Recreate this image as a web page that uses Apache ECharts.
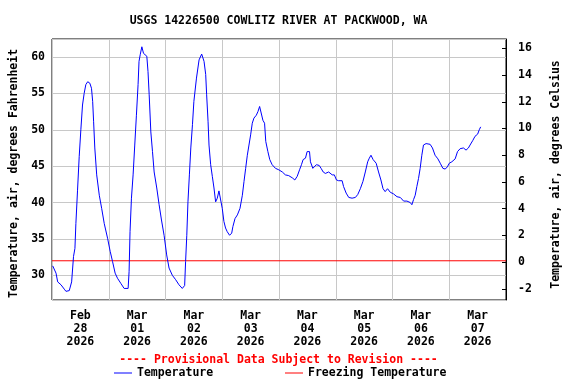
<!DOCTYPE html>
<html>
<head>
<meta charset="utf-8">
<script src="https://cdn.jsdelivr.net/npm/echarts@6/dist/echarts.min.js"></script>
<style>html,body{margin:0;padding:0;background:#fff;}#c{width:576px;height:384px;}</style>
</head>
<body>
<div id="c"></div>
<script>
// Hours since 2026-02-28 00:00 and air temperature (deg F)
const hours = [0.3,1.7,2.4,3.8,5.2,5.9,7.3,8.3,9.1,9.7,10.1,10.8,11.5,12.2,12.9,13.6,14.3,15.1,16.0,16.7,17.2,17.6,18.1,18.9,20.0,21.0,22.1,23.5,24.6,25.6,26.7,27.7,29.1,30.5,32.2,32.6,33.0,33.6,34.3,35.0,35.7,36.4,36.8,37.3,38.0,38.7,39.4,40.1,40.6,41.1,41.8,42.5,43.2,44.3,45.3,46.3,47.4,48.5,49.5,50.9,52.3,53.7,55.1,56.1,56.5,57.0,57.5,58.1,58.7,59.4,60.0,61.1,62.2,63.3,64.3,65.0,65.4,66.0,66.4,67.1,67.8,68.5,69.2,69.9,70.6,71.3,72.0,72.7,73.4,74.1,75.1,76.0,76.5,77.4,78.4,79.5,80.5,81.2,81.9,82.6,83.3,84.0,84.7,85.4,86.4,87.1,87.8,88.5,89.2,89.9,90.4,91.3,92.1,93.1,94.5,95.9,97.4,98.7,100.1,101.6,102.7,103.7,104.7,105.5,106.2,107.2,107.9,108.9,109.3,110.3,111.0,111.8,113.0,113.8,114.7,115.6,117.0,118.5,119.4,120.3,121.2,122.7,123.3,124.4,125.5,126.9,128.3,129.3,130.4,131.5,132.5,133.5,134.2,134.9,135.8,137.1,138.1,139.1,140.0,140.9,141.9,143.1,144.4,145.9,147.3,148.7,150.1,151.5,152.2,152.9,153.6,154.3,155.0,155.7,156.4,157.1,158.2,159.9,160.9,162.0,163.2,164.2,165.3,166.3,167.2,168.0,169.1,170.5,171.5,172.6,174.0,175.1,176.1,176.8,177.9,178.9,180.0,180.7,181.3];
const tempF = [31.3,30.3,29.1,28.7,28.1,27.8,27.9,29.1,32.6,33.7,37.1,41.7,46.3,50.0,53.4,55.0,56.2,56.6,56.4,55.7,53.9,51.1,47.5,43.8,41.0,39.2,37.1,35.1,33.3,31.9,30.3,29.6,28.9,28.2,28.2,30.5,36.0,40.6,43.8,47.9,52.0,56.2,59.4,60.3,61.4,60.5,60.7,60.1,58.0,54.8,49.7,47.0,44.2,42.0,39.7,37.6,35.5,32.8,31.0,30.0,29.4,28.7,28.2,28.6,31.9,35.5,40.1,43.8,47.5,50.7,53.9,57.1,59.6,60.4,59.4,57.6,54.8,51.1,47.9,45.2,43.6,42.0,40.1,40.6,41.6,41.6,39.2,37.4,36.5,36.0,35.5,35.8,36.7,37.8,38.3,39.2,41.0,42.9,44.7,46.5,47.9,49.3,50.9,51.6,52.0,52.5,53.2,53.0,51.3,50.9,48.4,47.0,45.9,45.2,44.7,44.5,44.2,43.8,43.7,43.4,43.1,43.6,44.5,45.2,45.9,46.1,47.0,47.0,45.6,44.7,44.7,45.2,45.1,44.7,44.2,44.0,44.2,43.8,43.8,43.1,43.0,43.0,42.2,41.3,40.7,40.6,40.7,41.1,41.9,42.9,44.2,45.6,46.1,46.5,45.9,45.4,44.2,43.1,41.9,41.5,41.9,41.4,41.2,40.8,40.7,40.2,40.2,40.0,39.7,40.4,41.0,42.2,43.3,44.7,46.5,47.9,48.1,48.0,47.5,46.5,46.0,45.4,44.7,44.6,44.9,45.4,45.6,46.0,47.0,47.4,47.5,47.2,47.5,47.9,48.5,49.1,49.4,50.0,50.4];
const freezeHours = [0, 192];
const freezeF = [32, 32];
const dayLabels = ['Feb\n28\n2026','Mar\n01\n2026','Mar\n02\n2026','Mar\n03\n2026','Mar\n04\n2026','Mar\n05\n2026','Mar\n06\n2026','Mar\n07\n2026'];
const titleText = 'USGS 14226500 COWLITZ RIVER AT PACKWOOD, WA';
const provisionalText = '---- Provisional Data Subject to Revision ----';

const FONT = '"DejaVu Sans Mono", "Liberation Mono", monospace';
const fs = 11.5;
const txt = {fontFamily: FONT, fontSize: fs, fontWeight: 'bold', color: '#000'};

const chart = echarts.init(document.getElementById('c'), null, {renderer: 'canvas'});
chart.setOption({
  animation: false,
  backgroundColor: '#fff',
  title: [
    {text: titleText, left: 278.5, top: 14, padding: 0, textAlign: 'center',
     textStyle: Object.assign({}, txt, {lineHeight: 14})},
    {text: provisionalText, left: 278.5, top: 353, padding: 0, textAlign: 'center',
     textStyle: Object.assign({}, txt, {color: '#ff0000', lineHeight: 14})}
  ],
  legend: [
    {data: ['Temperature'], left: 114, top: 367, padding: 0, icon: 'rect', itemWidth: 18, itemHeight: 1,
     textStyle: Object.assign({}, txt)},
    {data: ['Freezing Temperature'], left: 285, top: 367, padding: 0, icon: 'rect', itemWidth: 18, itemHeight: 1,
     textStyle: Object.assign({}, txt)}
  ],
  grid: {left: 51, right: 70, top: 39, bottom: 84, show: true, borderColor: '#000', borderWidth: 1, containLabel: false},
  xAxis: [
    {type: 'value', min: 0, max: 192, interval: 24,
     axisLine: {show: false}, axisTick: {show: false}, axisLabel: {show: false},
     splitLine: {show: true, lineStyle: {color: '#c8c8c8', width: 1}}},
    {type: 'category', data: dayLabels, boundaryGap: true, position: 'bottom',
     axisLine: {show: false}, axisTick: {show: false}, splitLine: {show: false},
     axisLabel: Object.assign({}, txt, {margin: 10, lineHeight: 13, interval: 0})}
  ],
  yAxis: [
    {type: 'value', min: 26.61, max: 62.47, splitNumber: 7,
     name: 'Temperature, air, degrees Fahrenheit', nameLocation: 'middle', nameRotate: 90, nameGap: 32,
     nameTextStyle: Object.assign({}, txt, {padding: [0, 8, 0, 0]}),
     axisLine: {show: false}, axisTick: {show: false},
     axisLabel: Object.assign({}, txt, {margin: 7, showMinLabel: false, showMaxLabel: false,
       formatter: v => (Math.abs(v % 5) < 1e-6 ? String(v) : '')}),
     splitLine: {show: true, lineStyle: {color: '#c8c8c8', width: 1}}},
    {type: 'value', min: -2.84, max: 16.70, splitNumber: 10, position: 'right',
     name: 'Temperature, air, degrees Celsius', nameLocation: 'middle', nameRotate: 90, nameGap: 44,
     nameTextStyle: Object.assign({}, txt, {padding: [0, 10, 0, 0]}),
     axisLine: {show: true, lineStyle: {color: '#000', width: 1}},
     axisTick: {show: true, inside: true, length: 4, lineStyle: {color: '#000'}},
     axisLabel: Object.assign({}, txt, {margin: 12, showMinLabel: false, showMaxLabel: false,
       formatter: v => (Math.abs(v % 2) < 1e-6 ? String(v) : '')}),
     splitLine: {show: false}}
  ],
  series: [
    {name: 'Freezing Temperature', type: 'line', xAxisIndex: 0, yAxisIndex: 0,
     data: freezeHours.map((h, i) => [h, freezeF[i]]),
     showSymbol: false, symbol: 'none', color: '#ff0000', lineStyle: {color: '#ff0000', width: 1}, z: 2},
    {name: 'Temperature', type: 'line', xAxisIndex: 0, yAxisIndex: 0,
     data: hours.map((h, i) => [h, tempF[i]]),
     showSymbol: false, symbol: 'none', color: '#0000ff', lineStyle: {color: '#0000ff', width: 1}, z: 3}
  ]
});
</script>
</body>
</html>
